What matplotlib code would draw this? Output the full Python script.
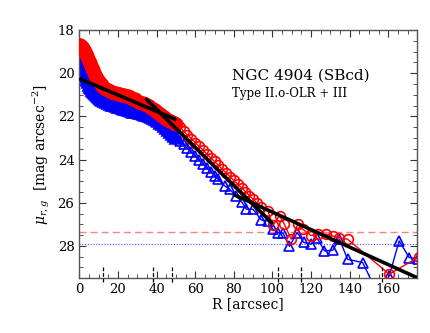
import numpy as np
import matplotlib
matplotlib.use("Agg")
import matplotlib.pyplot as plt
from matplotlib.ticker import MultipleLocator

# r-band profile (red circles)
r_red = [0, 0.5, 1, 1.5, 2, 2.5, 3, 3.5, 4, 4.5, 5, 5.5, 6, 6.5, 7, 7.5, 8,
         8.5, 9, 9.5, 10, 10.5, 11, 11.5, 12, 13, 14, 15, 16, 17, 18, 19, 20,
         21, 22, 23, 24, 25, 26, 27, 28, 29, 30, 31, 32, 33, 34, 35, 36, 37,
         38, 39, 40, 41, 42, 43, 44, 45, 46, 47, 48, 49, 50, 52, 54, 56, 58,
         60, 62, 64, 66, 68, 70, 72, 74, 76, 78, 80, 82, 84, 86, 88, 90, 92,
         94.2, 97.6, 100.2, 103.7, 106.2, 109.7, 113.1, 115.7, 120.0, 123.5,
         127.8, 131.2, 134.7, 138.9, 160.5, 176.0]
mu_red = [18.7, 18.71, 18.74, 18.79, 18.85, 18.92, 19.01, 19.11, 19.22, 19.33,
          19.44, 19.55, 19.66, 19.77, 19.87, 19.97, 20.07, 20.17, 20.26, 20.34,
          20.41, 20.47, 20.52, 20.57, 20.61, 20.68, 20.74, 20.79, 20.83, 20.87,
          20.9, 20.93, 20.96, 20.98, 21.01, 21.03, 21.06, 21.08, 21.11, 21.15,
          21.18, 21.22, 21.27, 21.32, 21.36, 21.4, 21.44, 21.48, 21.54, 21.6,
          21.66, 21.72, 21.78, 21.84, 21.9, 21.97, 22.03, 22.1, 22.15, 22.2,
          22.25, 22.3, 22.36, 22.51, 22.69, 22.87, 23.04, 23.22, 23.39, 23.56,
          23.74, 23.92, 24.09, 24.27, 24.45, 24.62, 24.79, 24.97, 25.14, 25.31,
          25.49, 25.67, 25.84, 26.02, 26.22, 26.38, 27.05, 26.6, 27.0, 27.69,
          27.0, 27.23, 27.52, 27.46, 27.46, 27.54, 27.62, 27.69, 29.31, 28.5]

# g-band profile (blue triangles)
r_blue = [0, 0.5, 1, 1.5, 2, 2.5, 3, 3.5, 4, 4.5, 5, 5.5, 6, 6.5, 7, 7.5, 8,
          8.5, 9, 9.5, 10, 10.5, 11, 11.5, 12, 13, 14, 15, 16, 17, 18, 19, 20,
          21, 22, 23, 24, 25, 26, 27, 28, 29, 30, 31, 32, 33, 34, 35, 36, 37,
          38, 39, 40, 41, 42, 43, 44, 45, 46, 47, 48, 49, 50, 52, 54, 56, 58,
          60, 62, 64, 66, 68, 70, 71.8, 75.3, 77.8, 81.3, 84.0, 86.5, 89.9,
          94.2, 97.6, 100.2, 102.8, 105.4, 108.8, 112.8, 116.2, 120.0, 123.2,
          126.9, 131.2, 134.7, 138.9, 146.7, 155.0, 160.5, 165.6, 170.8, 175.5]
mu_blue = [19.3, 19.36, 19.45, 19.57, 19.7, 19.84, 19.98, 20.12, 20.25, 20.37,
           20.48, 20.58, 20.66, 20.73, 20.79, 20.84, 20.88, 20.92, 20.95,
           21.0, 21.05, 21.09, 21.13, 21.16, 21.19, 21.25, 21.29, 21.33, 21.37,
           21.41, 21.45, 21.48, 21.51, 21.54, 21.57, 21.6, 21.63, 21.65, 21.68,
           21.7, 21.73, 21.75, 21.77, 21.79, 21.82, 21.85, 21.88, 21.91, 21.95,
           21.99, 22.03, 22.07, 22.12, 22.18, 22.25, 22.33, 22.41, 22.49, 22.58,
           22.67, 22.76, 22.85, 22.94, 23.12, 23.3, 23.48, 23.66, 23.84, 24.02,
           24.2, 24.38, 24.56, 24.74, 24.91, 25.22, 25.38, 25.69, 25.95, 26.3,
           26.3, 26.8, 26.84, 27.23, 27.38, 27.4, 28.02, 27.38, 27.84, 27.92,
           27.65, 28.23, 28.2, 27.69, 28.62, 28.77, 30.3, 29.38, 27.77, 28.54,
           28.6]

# fitted exponential segments: (r_start, r_end, mu_start, mu_end)
fits = [(0.0, 50.3, 20.25, 22.16),
        (34.3, 100.2, 21.17, 26.98),
        (79.6, 180.0, 25.61, 29.68)]

# sky levels
sky_red = 27.34
sky_blue = 27.92

# break / feature radii marked on the axis
marks = [12.5, 38.0, 48.0, 103.0, 115.0, 156.5]

plt.rcParams['font.family'] = 'DejaVu Serif'
plt.rcParams['mathtext.fontset'] = 'dejavuserif'

fig = plt.figure(figsize=(4.30, 3.33), dpi=100)
ax = fig.add_axes([0.1844, 0.1643, 0.7861, 0.7457])

ax.axhline(sky_red, color='#ff8080', lw=1.0, ls=(0, (5, 3)), zorder=1)
ax.axhline(sky_blue, color='#4050ff', lw=0.8, ls=(0, (1, 1.5)), zorder=1)

# inner, densely sampled part: the overlapping symbols merge into a band
n_in = 63
ax.plot(r_blue[:n_in], mu_blue[:n_in], '^', ms=8.5, mfc='none', mec='#0000ff',
        mew=1.8, zorder=2)
ax.plot(r_blue, mu_blue, '-', color='#0000ff', lw=1.0, marker='^', ms=7,
        mfc='none', mec='#0000ff', mew=1.2, zorder=2)
ax.plot(r_red[:n_in], mu_red[:n_in], 'o', ms=8.5, mfc='none', mec='#ff0000',
        mew=1.8, zorder=3)
ax.plot(r_red, mu_red, '-', color='#ff0000', lw=1.0, marker='o', ms=7,
        mfc='none', mec='#ff0000', mew=1.2, zorder=3)

for r0, r1, m0, m1 in fits:
    ax.plot([r0, r1], [m0, m1], '-', color='black', lw=2.6, zorder=4,
            solid_capstyle='butt')

ax.vlines(marks, 29.0, 29.78, colors='black', lw=0.9, ls=(0, (3, 1.5)),
          clip_on=False, zorder=5)

ax.set_xlim(0, 175)
ax.set_ylim(29.5, 18)
ax.xaxis.set_major_locator(MultipleLocator(20))
ax.xaxis.set_minor_locator(MultipleLocator(5))
ax.yaxis.set_major_locator(MultipleLocator(2))
ax.yaxis.set_minor_locator(MultipleLocator(0.5))
ax.tick_params(which='both', direction='in', top=True, right=True,
               colors='#333333', labelcolor='black', labelsize=9.5)
ax.tick_params(which='major', length=5)
ax.tick_params(which='minor', length=3)
for sp in ax.spines.values():
    sp.set_color('#555555')
    sp.set_linewidth(1.0)

ax.set_xlabel('R [arcsec]', fontsize=10, labelpad=1)
ax.set_ylabel(r'$\mu_{r,g}$  [mag arcsec$^{-2}$]', fontsize=10, labelpad=4)

ax.text(0.453, 0.8, 'NGC 4904 (SBcd)', transform=ax.transAxes, fontsize=11)
ax.text(0.453, 0.73, 'Type II.o-OLR + III', transform=ax.transAxes,
        fontsize=8.5)

fig.savefig('out.png', dpi=100)
